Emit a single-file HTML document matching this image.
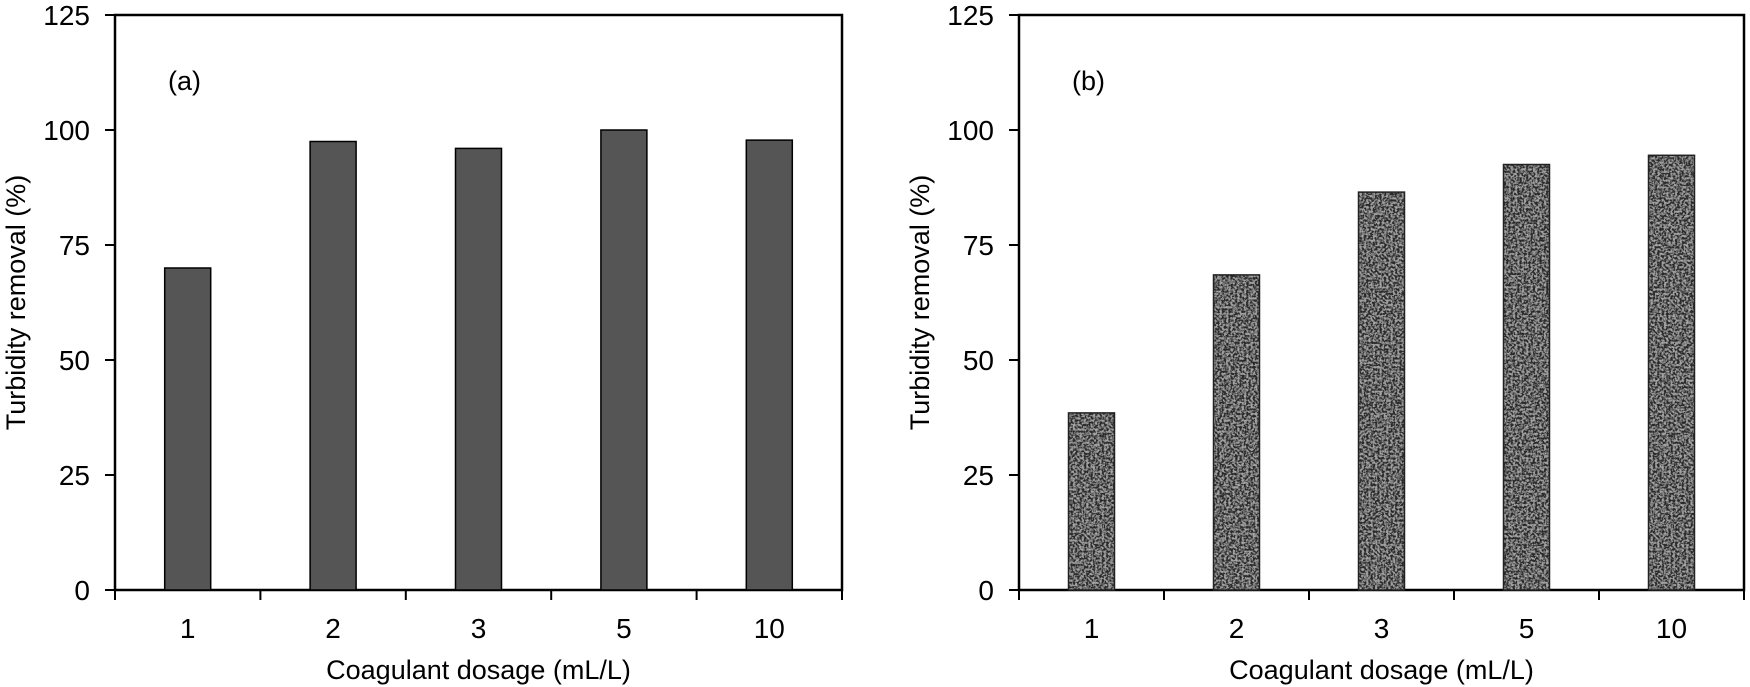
<!DOCTYPE html>
<html><head><meta charset="utf-8"><style>
html,body{margin:0;padding:0;background:#fff;}
svg{display:block;font-family:"Liberation Sans",Arial,sans-serif;}
</style></head><body>
<svg id="chart" width="1750" height="687" viewBox="0 0 1750 687">
<defs>
<filter id="speckle" x="0" y="0" width="100%" height="100%">
<feTurbulence type="fractalNoise" baseFrequency="0.45" numOctaves="2" seed="3" result="n"/>
<feColorMatrix in="n" type="matrix" values="0 0 0 0 0  0 0 0 0 0  0 0 0 0 0  2.2 2.2 2.2 0 -2.65" result="g"/>
<feColorMatrix in="n" type="matrix" values="0 0 0 0 0  0 0 0 0 0  0 0 0 0 0  -2.2 -2.2 -2.2 0 0.75" result="w"/>
<feFlood flood-color="#a4a4a4" result="bg"/>
<feFlood flood-color="#2a2a2a" result="fg"/>
<feFlood flood-color="#e4e4e4" result="wf"/>
<feComposite in="fg" in2="g" operator="in" result="dots"/>
<feComposite in="wf" in2="w" operator="in" result="wdots"/>
<feMerge result="m"><feMergeNode in="bg"/><feMergeNode in="wdots"/><feMergeNode in="dots"/></feMerge>
<feComposite in="m" in2="SourceGraphic" operator="in"/>
</filter>
</defs>
<g id="panelA"></g>
<g id="panelB"></g>
</svg>
<script>
const categories = ["1","2","3","5","10"];
const valuesA = [70, 97.5, 96, 100, 97.8];
const valuesB = [38.5, 68.5, 86.5, 92.5, 94.5];
const yTicks = [0, 25, 50, 75, 100, 125];
const NS = "http://www.w3.org/2000/svg";
function mk(tag, attrs, parent, text){
  const e=document.createElementNS(NS,tag);
  for(const k in attrs) e.setAttribute(k,attrs[k]);
  if(text!==undefined) e.textContent=text;
  parent.appendChild(e); return e;
}
function panel(g, x0, x1, values, label, speckle){
  const yTop=15, yBot=590, yMax=125;
  const y = v => yBot - (v/yMax)*(yBot-yTop);
  const bw=(x1-x0)/categories.length;
  const xc = i => x0 + bw*(i+0.5);
  const fr=mk("rect",{x:x0,y:yTop,width:x1-x0,height:yBot-yTop,fill:"none",stroke:"#000","stroke-width":2.5},g);
  
  
  values.forEach((v,i)=>{
    const r=mk("rect",{x:xc(i)-23,y:y(v),width:46,height:yBot-y(v),fill:speckle?"#aaa":"#555",stroke:"#000","stroke-width":1.5},g);
    if(speckle){
      r.setAttribute("filter","url(#speckle)");
      const o=mk("rect",{x:xc(i)-23,y:y(v),width:46,height:yBot-y(v),fill:"none",stroke:"#222","stroke-width":1.5},g);
      
      
    }
    
    
  });
  yTicks.forEach(t=>{
    const l=mk("line",{x1:x0-10,x2:x0,y1:y(t),y2:y(t),stroke:"#000","stroke-width":2},g);
    
    
    const tx=mk("text",{x:x0-25,y:y(t)+10,"font-size":28,"text-anchor":"end",fill:"#000"},g,String(t));
    
    
  });
  for(let i=0;i<=categories.length;i++){
    const xx=x0+bw*i;
    const l=mk("line",{x1:xx,x2:xx,y1:yBot,y2:yBot+10,stroke:"#000","stroke-width":2},g);
    
    
  }
  categories.forEach((c,i)=>{
    const tx=mk("text",{x:xc(i),y:638,"font-size":28,"text-anchor":"middle",fill:"#000"},g,c);
    
    
  });
  const xt=mk("text",{x:(x0+x1)/2,y:679,"font-size":27,"text-anchor":"middle",fill:"#000"},g,"Coagulant dosage (mL/L)");
  
  
  const yt=mk("text",{x:0,y:0,"font-size":27,"text-anchor":"middle",fill:"#000",transform:`translate(${x0-90},${(yTop+yBot)/2}) rotate(-90)`},g,"Turbidity removal (%)");
  
  
  const pl=mk("text",{x:x0+53,y:90,"font-size":27,fill:"#000"},g,label);
  
  
}
panel(document.getElementById("panelA"),115,842,valuesA,"(a)",false);
panel(document.getElementById("panelB"),1019,1744,valuesB,"(b)",true);
</script>
</body></html>
